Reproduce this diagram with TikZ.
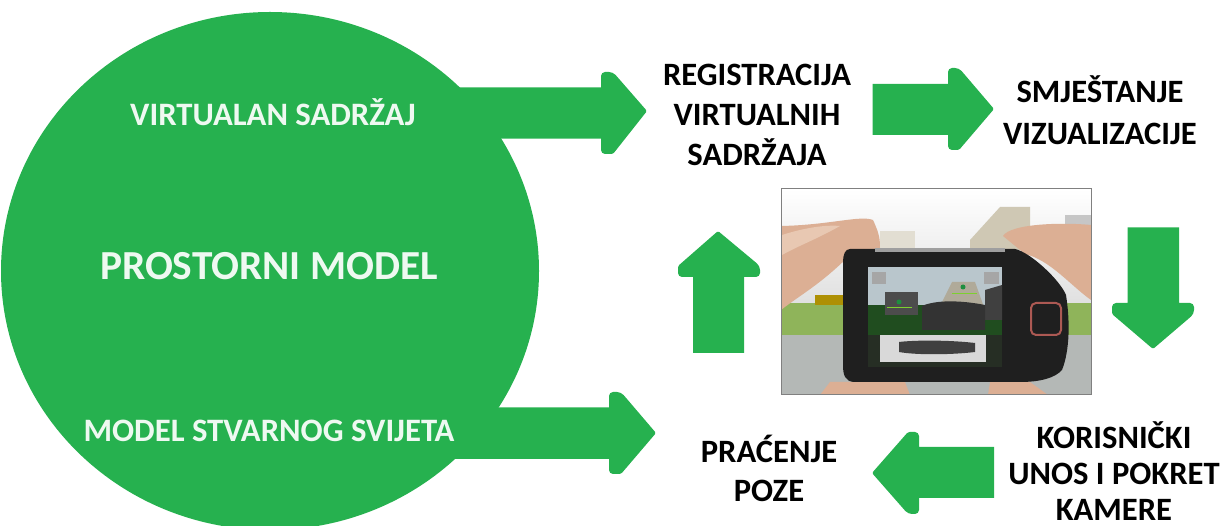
\documentclass[tikz,border=0pt]{standalone}
\usepackage{fontspec}
\setmainfont{Carlito}
\usetikzlibrary{calc}
\definecolor{grn}{HTML}{26B14F}
\definecolor{skin}{HTML}{DCAF94}
\definecolor{skinlt}{HTML}{E8C8B2}
\definecolor{road}{HTML}{B4B8B6}
\definecolor{lawn}{HTML}{8FB45A}
\definecolor{bldg}{HTML}{CFC8B4}
\definecolor{scr}{HTML}{B9C6CC}
\definecolor{tree}{HTML}{262E24}
\tikzset{
  blockarrow/.style={fill=grn,rounded corners=4pt},
  dark/.style={font=\fontsize{32.6}{#1}\selectfont\bfseries,align=center,text=black,inner sep=0pt},
  light/.style={font=\fontsize{32.7}{38}\selectfont\bfseries,align=center,text=white!92!grn,inner sep=0pt},
  big/.style={font=\fontsize{41.3}{48}\selectfont\bfseries,align=center,text=white!92!grn,inner sep=0pt},
}
\begin{document}
\begin{tikzpicture}[x=1pt,y=-1pt]
\useasboundingbox (0,0) rectangle (1227,526);
% disc
\fill[grn] (270,271) ellipse[x radius=269,y radius=259];
% arrows
\path[blockarrow] (440,87.5) [sharp corners] -- (601,87.5) [rounded corners=4pt] -- (601,72) -- (613,72) [rounded corners=1.5pt] -- (647,111) -- (613,154) [rounded corners=4pt] -- (601,154) [sharp corners] -- (601,138.7) -- (440,138.7) -- cycle;
\path[blockarrow] (872.5,84) [sharp corners] -- (948,84) [rounded corners=4pt] -- (948,68) -- (959,68) [rounded corners=1.5pt] -- (994,109) -- (959,150) [rounded corners=4pt] -- (948,150) [sharp corners] -- (948,135) -- (872.5,135) -- cycle;
\path[blockarrow] (1127.5,227.5) [sharp corners] -- (1179,227.5) -- (1179,303) [rounded corners=4pt] -- (1194,303) -- (1194,314) [rounded corners=1.5pt] -- (1153,349) -- (1112,314) [rounded corners=4pt] -- (1112,303) [sharp corners] -- (1127.5,303) -- cycle;
\path[blockarrow] (994,447) [sharp corners] -- (994,498) -- (919,498) [rounded corners=4pt] -- (919,514) -- (908,514) [rounded corners=1.5pt] -- (872,473) -- (908,432) [rounded corners=4pt] -- (919,432) [sharp corners] -- (919,447) -- cycle;
\path[blockarrow] (693,353) [sharp corners] -- (744,353) -- (744,277) [rounded corners=4pt] -- (760,277) -- (760,266) [rounded corners=1.5pt] -- (718,231) -- (678,266) [rounded corners=4pt] -- (678,277) [sharp corners] -- (693,277) -- cycle;
\path[blockarrow] (440,407.5) [sharp corners] -- (609,407.5) [rounded corners=4pt] -- (609,392) -- (621,392) [rounded corners=1.5pt] -- (656,433) -- (621,474) [rounded corners=4pt] -- (609,474) [sharp corners] -- (609,459) -- (440,459) -- cycle;
% photo
\begin{scope}
\clip (781,189) rectangle (1091,395);
\shade[top color=white,bottom color=white!88!black] (781,189) rectangle (1091,303);
\fill[bldg!60!white] (880,231) rectangle (915,248);
\fill[bldg] (970,240) -- (1000,207) -- (1030,207) -- (1030,250) -- (970,250) -- cycle;
\fill[gray!45] (1065,215) rectangle (1091,230);
\fill[lawn] (781,303) rectangle (1091,335);
\fill[olive!70!orange] (815,295) rectangle (850,305);
\fill[road] (781,335) rectangle (1091,395);
\fill[skin] (781,226) .. controls (830,225) and (860,215) .. (873,220) .. controls (880,235) and (880,240) .. (880,250) -- (850,255) .. controls (820,285) and (800,295) .. (781,310) -- cycle;
\fill[skinlt] (782,235) .. controls (810,226) and (830,225) .. (840,226) .. controls (815,240) and (800,245) .. (782,255) -- cycle;
\fill[skin] (1003,236) .. controls (1010,224) and (1060,222) .. (1091,225) -- (1091,300) .. controls (1070,285) and (1050,260) .. (1025,254) -- cycle;
\fill[skin] (830,382) -- (905,382) -- (910,395) -- (820,395) -- cycle;
\fill[skin] (990,382) -- (1030,382) -- (1048,395) -- (988,395) -- cycle;
\end{scope}
\draw[gray,line width=1pt] (781,189) rectangle (1091,395);
% phone
\fill[black!88] (850,249) -- (1015,249) .. controls (1030,252) and (1060,280) .. (1066,295) .. controls (1070,320) and (1070,350) .. (1062,370) .. controls (1055,378) and (1040,382) .. (1020,382) -- (855,382) .. controls (845,382) and (843,375) .. (843,365) -- (843,262) .. controls (843,255) and (845,249) .. (850,249) -- cycle;
\fill[gray!75] (875,248) rectangle (1005,252);
\fill[scr] (868,267) rectangle (1002,367);
\fill[tree!85!green] (868,305) rectangle (1002,335);
\fill[tree] (868,335) rectangle (1002,367);
\fill[black!70] (885,292) rectangle (918,315);
\fill[bldg!85!black] (938,310) -- (952,282) -- (975,282) -- (985,310) -- cycle;
\fill[black!75] (985,290) -- (1002,285) -- (1002,320) -- (985,320) -- cycle;
\fill[black!80] (922,306) .. controls (935,300) and (960,300) .. (985,305) -- (985,330) -- (922,330) -- cycle;
\fill[gray!70] (872,272) rectangle (886,284);
\fill[gray!70] (984,272) rectangle (999,284);
\fill[white!85!black] (880,335) rectangle (986,362);
\fill[black!75] (899,342) .. controls (915,340) and (950,340) .. (975,343) -- (975,352) .. controls (950,355) and (915,355) .. (899,352) -- cycle;
\fill[grn!80!black] (899,302) circle[radius=2.5];
\fill[grn!80!black] (963,287) circle[radius=2.5];
\draw[grn!60!yellow,line width=1pt] (887,308) -- (912,308);
\draw[grn!60!yellow,line width=1pt] (952,294) -- (977,294);
\draw[line width=2pt,draw=brown!70!violet,rounded corners=5pt] (1031,303) rectangle (1061,335);
% labels
\node[light] (vs) at (273,112) {VIRTUALAN SADRŽAJ};
\node[big] (pm) at (269,266) {PROSTORNI MODEL};
\node[light] (ms) at (269,431) {MODEL STVARNOG SVIJETA};
\node[dark=40] (rv) at (757,115) {REGISTRACIJA\\VIRTUALNIH\\SADRŽAJA};
\node[dark=42] (sv) at (1100,110) {SMJEŠTANJE\\VIZUALIZACIJE};
\node[dark=39] (pp) at (769,468) {PRAĆENJE\\POZE};
\node[dark=36] (ku) at (1114,471) {KORISNIČKI\\UNOS I POKRET\\KAMERE};
\end{tikzpicture}
\end{document}
